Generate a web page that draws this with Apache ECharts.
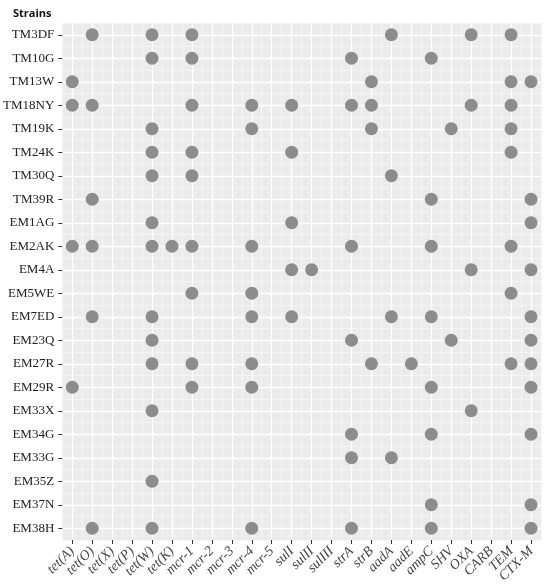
<!DOCTYPE html>
<html>
<head>
<meta charset="utf-8">
<script src="https://cdn.jsdelivr.net/npm/echarts@6/dist/echarts.min.js"></script>
<style>
  html, body { margin: 0; padding: 0; background: #fff; }
  #main { width: 550px; height: 588px; }
</style>
</head>
<body>
<div id="main"></div>
<script>
var genes = ['tet(A)', 'tet(O)', 'tet(X)', 'tet(P)', 'tet(W)', 'tet(K)', 'mcr-1', 'mcr-2', 'mcr-3', 'mcr-4', 'mcr-5',
  'sulI', 'sulII', 'sulIII', 'strA', 'strB', 'aadA', 'aadE', 'ampC', 'SHV', 'OXA', 'CARB', 'TEM', 'CTX-M'];

var strains = ['TM3DF', 'TM10G', 'TM13W', 'TM18NY', 'TM19K', 'TM24K', 'TM30Q', 'TM39R', 'EM1AG', 'EM2AK', 'EM4A',
  'EM5WE', 'EM7ED', 'EM23Q', 'EM27R', 'EM29R', 'EM33X', 'EM34G', 'EM33G', 'EM35Z', 'EM37N', 'EM38H'];

// genes detected in each strain, same order as strains
var detected = [
  ['tet(O)', 'tet(W)', 'mcr-1', 'aadA', 'OXA', 'TEM'],
  ['tet(W)', 'mcr-1', 'strA', 'ampC'],
  ['tet(A)', 'strB', 'TEM', 'CTX-M'],
  ['tet(A)', 'tet(O)', 'mcr-1', 'mcr-4', 'sulI', 'strA', 'strB', 'OXA', 'TEM'],
  ['tet(W)', 'mcr-4', 'strB', 'SHV', 'TEM'],
  ['tet(W)', 'mcr-1', 'sulI', 'TEM'],
  ['tet(W)', 'mcr-1', 'aadA'],
  ['tet(O)', 'ampC', 'CTX-M'],
  ['tet(W)', 'sulI', 'CTX-M'],
  ['tet(A)', 'tet(O)', 'tet(W)', 'tet(K)', 'mcr-1', 'mcr-4', 'strA', 'ampC', 'TEM'],
  ['sulI', 'sulII', 'OXA', 'CTX-M'],
  ['mcr-1', 'mcr-4', 'TEM'],
  ['tet(O)', 'tet(W)', 'mcr-4', 'sulI', 'aadA', 'ampC', 'CTX-M'],
  ['tet(W)', 'strA', 'SHV', 'CTX-M'],
  ['tet(W)', 'mcr-1', 'mcr-4', 'strB', 'aadE', 'TEM', 'CTX-M'],
  ['tet(A)', 'mcr-1', 'mcr-4', 'ampC', 'CTX-M'],
  ['tet(W)', 'OXA'],
  ['strA', 'ampC', 'CTX-M'],
  ['strA', 'aadA'],
  ['tet(W)'],
  ['ampC', 'CTX-M'],
  ['tet(O)', 'tet(W)', 'mcr-4', 'strA', 'ampC', 'CTX-M']
];

var points = [];
strains.forEach(function (s, i) {
  detected[i].forEach(function (g) {
    points.push([g, s]);
  });
});

var chart = echarts.init(document.getElementById('main'));

var option = {
  backgroundColor: '#fff',
  animation: false,
  title: {
    text: 'Strains',
    left: 8,
    top: 3,
    textStyle: { fontFamily: 'Open Sans', fontWeight: 'bold', fontSize: 11, color: '#111' }
  },
  grid: { left: 62, right: 9, top: 23, bottom: 48, show: true, backgroundColor: '#ebebeb', borderWidth: 0 },
  xAxis: [
    {
      type: 'category',
      data: genes,
      boundaryGap: true,
      position: 'bottom',
      axisLine: { show: false, onZero: false },
      axisTick: { show: true, alignWithLabel: true, length: 4, lineStyle: { color: '#333' } },
      splitLine: { show: false },
      axisLabel: {
        interval: 0,
        rotate: 45,
        margin: 9,
        fontFamily: 'Liberation Serif',
        fontStyle: 'italic',
        fontSize: 14,
        color: '#444'
      }
    },
    {
      type: 'value',
      min: -0.5,
      max: 23.5,
      interval: 1,
      position: 'top',
      axisLine: { show: false, onZero: false },
      axisTick: { show: false },
      axisLabel: { show: false },
      splitLine: { show: true, lineStyle: { color: '#f6f6f6', width: 0.8 } },
      minorTick: { show: false, splitNumber: 2 },
      minorSplitLine: { show: true, lineStyle: { color: '#ffffff', width: 1.4 } }
    }
  ],
  yAxis: [
    {
      type: 'category',
      data: strains,
      inverse: true,
      boundaryGap: true,
      position: 'left',
      axisLine: { show: false, onZero: false },
      axisTick: { show: true, alignWithLabel: true, length: 4, lineStyle: { color: '#333' } },
      splitLine: { show: false },
      axisLabel: {
        interval: 0,
        margin: 8,
        fontFamily: 'Liberation Serif',
        fontSize: 13,
        color: '#222'
      }
    },
    {
      type: 'value',
      min: -0.5,
      max: 21.5,
      interval: 1,
      inverse: true,
      position: 'right',
      axisLine: { show: false, onZero: false },
      axisTick: { show: false },
      axisLabel: { show: false },
      splitLine: { show: true, lineStyle: { color: '#f6f6f6', width: 0.8 } },
      minorTick: { show: false, splitNumber: 2 },
      minorSplitLine: { show: true, lineStyle: { color: '#ffffff', width: 1.4 } }
    }
  ],
  series: [
    {
      type: 'scatter',
      xAxisIndex: 0,
      yAxisIndex: 0,
      symbol: 'circle',
      symbolSize: 13,
      itemStyle: { color: '#8c8c8c', opacity: 1 },
      data: points
    }
  ]
};

chart.setOption(option);
</script>
</body>
</html>
